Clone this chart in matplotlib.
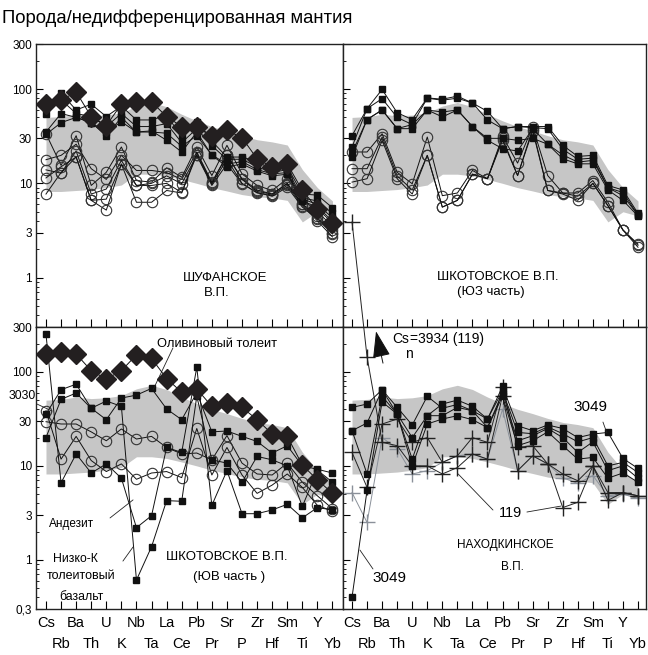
import numpy as np
import matplotlib.pyplot as plt
from matplotlib.ticker import NullFormatter, FixedLocator

plt.rcParams['font.family'] = ['Liberation Sans', 'DejaVu Sans']

# Elements in the order of the spider diagram
elements = ['Cs', 'Rb', 'Ba', 'Th', 'U', 'K', 'Nb', 'Ta', 'La', 'Ce',
            'Pb', 'Pr', 'Sr', 'P', 'Zr', 'Hf', 'Sm', 'Ti', 'Y', 'Yb']

# Grey field (same in every panel)
band_hi = [50, 51, 54, 52, 53, 56, 66, 72, 65, 54, 46, 40, 36, 32, 29, 27.5, 25.5, 14, 9, 6.5]
band_lo = [8.2, 8.2, 8.4, 8.6, 9, 9.6, 12.5, 12.5, 12, 11, 10, 9, 8.3, 7.6, 7.2, 7, 6.6, 3.9, 5, 4.5]

# Шуфанское В.П.
shuf_diamond = [69, 76, 93, 51, 41, 69, 73, 73, 51, 40, 40, 32, 36.5, 30.5, 18.2, 14.9, 16.1, 8.4, 5.4, 3.8]
shuf_sq1 = [55, 90, 60, 69, 51, 66, 47, 47, 53, 31, 45, 28, 19, 19, 17, 14, 15, 7.7, 7.5, 5.5]
shuf_sq2 = [66, 77, 55, 51, 40, 55, 40, 40, 43, 27, 38, 25, 18, 18, 15, 13, 14, 7, 6.5, 4.8]
shuf_sq3 = [35, 55, 50, 44, 35, 45, 35, 35, 34, 24.7, 32, 20, 16, 17, 14, 12.6, 13, 6.8, 6, 4.3]
shuf_sq4 = [33, 44, 50, 44, 32, 50, 35, 36, 28.6, 21.5, 35, 19.8, 15, 16, 13.5, 12, 12.5, 6.5, 5.6, 4]
shuf_c1 = [33.6, 15.5, 32, 9.5, 13.1, 24.3, 10.7, 10.3, 14.6, 11.6, 24.3, 12.1, 25.3, 12.6, 9.5, 8.4, 11.2, 6.8, 5, 3.5]
shuf_c2 = [17.8, 19.8, 26, 14.3, 11, 19.8, 13.7, 13.7, 13, 11, 21.5, 10.3, 19.8, 11.2, 8.5, 7.7, 9.9, 6.05, 4.5, 3.2]
shuf_c3 = [13.9, 12.8, 22, 7.7, 8.7, 17.5, 9.5, 10, 12, 9.9, 19.8, 9.5, 16, 9.9, 8, 7.3, 9.1, 5.6, 4.2, 2.9]
shuf_c4 = [11.4, 15, 19, 6.6, 5.2, 16, 6.3, 6.3, 8.4, 7.9, 20, 9.8, 18, 10, 7.9, 7.5, 9.5, 5.8, 4, 2.7]
shuf_c5 = [7.7, 13, 19, 6.6, 6.8, 16, 9.5, 9.5, 10, 8, 21, 10, 20, 11, 8.2, 7.7, 10, 6, 4.3, 3]

# Шкотовское В.П. (ЮЗ часть)
shsw_sq1 = [32, 62, 99, 56, 47.5, 80.5, 78, 84, 71, 58, 38, 40, 40, 40, 25.3, 19.3, 19.8, 9.5, 8.5, 4.8]
shsw_sq2 = [24.3, 62, 79, 50, 42, 80, 76, 80, 71, 47, 38, 40, 39, 38, 23, 18, 18.5, 9, 8, 4.6]
shsw_sq3 = [21, 47.5, 60, 38, 42, 60, 57, 60, 40, 30, 30, 28.6, 30, 26, 20, 16.8, 17.5, 9, 7.4, 4.6]
shsw_sq4 = [19, 47.5, 60, 38, 38, 60, 50.6, 60, 40, 28.6, 23.3, 22, 38, 26, 18.2, 16.1, 16.1, 8.5, 6.6, 4.5]
shsw_c1 = [21.5, 21.5, 33.6, 13.1, 9.9, 31, 7.4, 7.9, 13.7, 11.2, 31.5, 16.4, 40, 12.1, 7.9, 7.9, 10.7, 6.3, 3.2, 2.27]
shsw_c2 = [14.3, 14.3, 31, 12, 8.5, 19.8, 5.6, 6.6, 12.5, 11.2, 30, 12.1, 38, 8.4, 7.9, 7.3, 10, 5.8, 3.2, 2.2]
shsw_c3 = [10.3, 11.2, 28.6, 11.2, 7.7, 19.8, 5.6, 6.6, 12.5, 11.2, 28.6, 12.1, 36, 8.4, 7.7, 6.6, 10, 5.8, 3.2, 2.1]

# Шкотовское В.П. (ЮВ часть)
shse_diamond = [155, 164, 155, 103, 84, 103, 152, 139, 85, 60.6, 65.7, 43, 46.6, 41.9, 31, 21.8, 20.6, 10.2, 7.1, 5.1]
shse_sq1 = [35.6, 64.6, 74, 41, 31, 52.7, 56.6, 66.7, 40.3, 31, 60, 23, 23.5, 20.6, 18.2, 13.7, 16.4, 10, 9.2, 8.4]
shse_sq2 = [20, 51, 59.6, 41, 49, 43, 0.61, 1.38, 4.27, 4.2, 55, 11.6, 10.7, 6.7, 12.6, 11.6, 10, 3.7, 9, 6.7]
shse_sq3 = [252, 6.6, 13.4, 8.4, 10.5, 7.4, 2.2, 2.95, 15.7, 13.9, 112, 3.8, 8.9, 3.1, 3.1, 3.4, 3.9, 2.8, 3.6, 3.4]
shse_c1 = [29.5, 27.9, 27.9, 23, 18.5, 24.7, 19.3, 20.6, 15.7, 13.4, 13.7, 11.6, 21, 10.7, 8.2, 8, 10.7, 6.7, 4.8, 3.5]
shse_c2 = [38.6, 11.8, 20.6, 11.4, 8.7, 10.5, 7.2, 8.4, 8.7, 7.5, 25, 8, 15.7, 8, 5.1, 6.25, 8.2, 5.9, 3.8, 3.3]

# Находкинское В.П.
nakh_3049 = [0.4, 5.5, 48, 35.6, 11.8, 34.2, 45.5, 50.1, 43, 31.5, 70, 26.7, 23.7, 27.2, 25, 20, 21.8, 22.7, 12, 9.4]
nakh_sq1 = [41.9, 45.5, 64.6, 41.9, 27.2, 55, 41, 45, 38.6, 31.5, 63, 22.7, 22, 26, 22, 18, 20, 10, 10.9, 8.5]
nakh_sq2 = [23.7, 28.6, 64.6, 35.6, 20, 34.2, 34.2, 41.9, 38.6, 25.6, 60, 18.5, 20.9, 25, 20, 13.9, 18, 8.9, 10, 7.4]
nakh_sq3 = [23.7, 8.2, 55, 35.6, 10, 27.9, 31.5, 34.2, 31, 25.6, 55, 16.4, 18.5, 23, 16.4, 11.8, 12.3, 7.4, 8.4, 6.7]
nakh_119 = [3934, 144, 17.8, 16.4, 10, 10, 8.2, 9.6, 13.4, 11.8, 55.7, 8.9, 12.8, 10.5, 3.6, 4.1, 10, 4.3, 5.2, 4.8]
nakh_x2 = [13.9, 5.9, 27.9, 31.5, 17.8, 20, 10.9, 12.8, 20, 17.8, 68.4, 15.7, 16.4, 10.5, 8.2, 6.95, 10, 5.2, 5.2, 4.8]
nakh_x3 = [5.2, 2.5, 20, 15.2, 8.2, 8.9, 10.9, 12.8, 13.4, 11.8, 40, 8.9, 12.8, 10.5, 7.5, 6.5, 7.9, 4.8, 5, 4.5]

x = np.arange(len(elements))

fig = plt.figure(figsize=(6.48, 6.55), dpi=100)
ax_tl = fig.add_axes([0.0556, 0.5008, 0.4738, 0.432])
ax_tr = fig.add_axes([0.5293, 0.5008, 0.4676, 0.432])
ax_bl = fig.add_axes([0.0556, 0.0702, 0.4738, 0.4305])
ax_br = fig.add_axes([0.5293, 0.0702, 0.4676, 0.4305])

line_kw = dict(color='#111111', lw=0.7)


def squares(ax, vals):
    ax.plot(x, vals, marker='s', ms=4.4, mfc='#111111', mec='#111111', zorder=3, **line_kw)


def circles(ax, vals):
    ax.plot(x, vals, marker='o', ms=7.5, mfc='none', mec='#333333', mew=0.8, zorder=2, **line_kw)


def diamonds(ax, vals):
    ax.plot(x, vals, marker='D', ms=9.8, mfc='#231f20', mec='#231f20', zorder=4, **line_kw)


def crosses(ax, vals, color, clip=True):
    ax.plot(x, vals, marker='+', ms=11, mew=1.0, color=color, lw=0.7, zorder=2.5, clip_on=clip)


def style_axes(ax, left, bottom, top_panel):
    ax.fill_between(x, band_lo, band_hi, color='#c6c6c6', lw=0, zorder=0)
    ax.set_yscale('log')
    ax.set_ylim(0.3, 300)
    ax.set_xlim(-0.66 if left else -0.6, 19.7 if left else 19.53)
    if top_panel:
        ax.set_yticks([1, 3, 10, 30, 100, 300])
        ax.set_yticklabels(['1', '3', '10', '30', '100', '300'])
    else:
        ax.set_yticks([0.3, 1, 3, 10, 30, 100, 300])
        ax.set_yticklabels(['0,3', '1', '3', '10', '30', '100', '300'])
    ax.yaxis.set_minor_formatter(NullFormatter())
    ax.tick_params(axis='y', which='major', direction='in', length=5, width=0.8,
                   labelsize=8.5, pad=3, labelleft=left)
    ax.tick_params(axis='y', which='minor', direction='in', length=2.5, width=0.6)
    # even elements on the first row, odd ones on the second row
    ax.xaxis.set_major_locator(FixedLocator(x[0::2]))
    ax.xaxis.set_minor_locator(FixedLocator(x[1::2]))
    ax.tick_params(axis='x', which='both', direction='in', length=6, width=0.8,
                   labelbottom=bottom, labelsize=10.5)
    ax.tick_params(axis='x', which='major', pad=4.8)
    ax.tick_params(axis='x', which='minor', pad=20.5)
    if bottom:
        ax.set_xticklabels(elements[0::2])
        ax.set_xticklabels(elements[1::2], minor=True)
    for s in ax.spines.values():
        s.set_linewidth(1.0)
        s.set_color('#222222')


style_axes(ax_tl, True, False, True)
style_axes(ax_tr, False, False, True)
style_axes(ax_bl, True, True, False)
style_axes(ax_br, False, True, False)

# Шуфанское
for v in [shuf_c1, shuf_c2, shuf_c3, shuf_c4, shuf_c5]:
    circles(ax_tl, v)
for v in [shuf_sq1, shuf_sq2, shuf_sq3, shuf_sq4]:
    squares(ax_tl, v)
diamonds(ax_tl, shuf_diamond)
ax_tl.text(0.616, 0.173, 'ШУФАНСКОЕ', transform=ax_tl.transAxes, ha='center', va='center', fontsize=9.5)
ax_tl.text(0.59, 0.12, 'В.П.', transform=ax_tl.transAxes, ha='center', va='center', fontsize=9.5)

# Шкотовское ЮЗ
for v in [shsw_c1, shsw_c2, shsw_c3]:
    circles(ax_tr, v)
for v in [shsw_sq1, shsw_sq2, shsw_sq3, shsw_sq4]:
    squares(ax_tr, v)
ax_tr.text(0.51, 0.177, 'ШКОТОВСКОЕ В.П.', transform=ax_tr.transAxes, ha='center', va='center', fontsize=9.5)
ax_tr.text(0.488, 0.124, '(ЮЗ часть)', transform=ax_tr.transAxes, ha='center', va='center', fontsize=9.5)

# Шкотовское ЮВ
for v in [shse_c1, shse_c2]:
    circles(ax_bl, v)
for v in [shse_sq1, shse_sq2, shse_sq3]:
    squares(ax_bl, v)
diamonds(ax_bl, shse_diamond)
ax_bl.text(0.62, 0.184, 'ШКОТОВСКОЕ В.П.', transform=ax_bl.transAxes, ha='center', va='center', fontsize=9.5)
ax_bl.text(0.629, 0.113, '(ЮВ часть )', transform=ax_bl.transAxes, ha='center', va='center', fontsize=9.5)
ax_bl.text(0.591, 0.94, 'Оливиновый толеит', transform=ax_bl.transAxes, ha='center', va='center', fontsize=9.3)
ax_bl.text(-0.044, 0.755, '3030', transform=ax_bl.transAxes, ha='center', va='center', fontsize=8.8, clip_on=False)
ax_bl.text(0.117, 0.301, 'Андезит', transform=ax_bl.transAxes, ha='center', va='center', fontsize=8.5)
ax_bl.text(0.127, 0.177, 'Низко-К', transform=ax_bl.transAxes, ha='center', va='center', fontsize=8.8)
ax_bl.text(0.147, 0.117, 'толеитовый', transform=ax_bl.transAxes, ha='center', va='center', fontsize=9)
ax_bl.text(0.147, 0.043, 'базальт', transform=ax_bl.transAxes, ha='center', va='center', fontsize=8.8)
leaders_bl = [((0.446, 0.926), (0.381, 0.777)),
              ((0.003, 0.727), (0.052, 0.702)),
              ((0.241, 0.323), (0.316, 0.387)),
              ((0.283, 0.17), (0.316, 0.22))]
for a, b in leaders_bl:
    ax_bl.annotate('', xy=b, xytext=a, xycoords='axes fraction', textcoords='axes fraction',
                   arrowprops=dict(arrowstyle='-', lw=0.6, color='#222222', shrinkA=0, shrinkB=0),
                   annotation_clip=False)

# Находкинское
crosses(ax_br, nakh_x3, '#8a9099')
crosses(ax_br, nakh_x2, '#222222')
crosses(ax_br, nakh_119, '#222222', clip=False)
for v in [nakh_sq1, nakh_sq2, nakh_sq3, nakh_3049]:
    squares(ax_br, v)
ax_br.text(0.536, 0.227, 'НАХОДКИНСКОЕ', transform=ax_br.transAxes, ha='center', va='center', fontsize=8.5)
ax_br.text(0.558, 0.149, 'В.П.', transform=ax_br.transAxes, ha='center', va='center', fontsize=8.5)
ax_br.text(0.817, 0.716, '3049', transform=ax_br.transAxes, ha='center', va='center', fontsize=11)
ax_br.text(0.153, 0.11, '3049', transform=ax_br.transAxes, ha='center', va='center', fontsize=11)
ax_br.text(0.554, 0.34, '119', transform=ax_br.transAxes, ha='center', va='center', fontsize=10.5)
ax_br.text(0.162, 0.957, 'Cs', transform=ax_br.transAxes, ha='left', va='center', fontsize=10)
ax_br.text(0.205, 0.905, 'n', transform=ax_br.transAxes, ha='left', va='center', fontsize=10)
ax_br.text(0.221, 0.957, '=3934 (119)', transform=ax_br.transAxes, ha='left', va='center', fontsize=10)
ax_br.annotate('', xy=(0.109, 0.985), xytext=(0.132, 0.872), xycoords='axes fraction',
               textcoords='axes fraction',
               arrowprops=dict(arrowstyle='-|>,head_length=1.2,head_width=0.4', lw=0.7,
                               color='#111111', shrinkA=0, shrinkB=0, mutation_scale=14))
leaders_br = [((0.858, 0.663), (0.871, 0.624)),
              ((0.495, 0.351), (0.380, 0.479)),
              ((0.607, 0.344), (0.719, 0.365)),
              ((0.099, 0.142), (0.056, 0.209))]
for a, b in leaders_br:
    ax_br.annotate('', xy=b, xytext=a, xycoords='axes fraction', textcoords='axes fraction',
                   arrowprops=dict(arrowstyle='-', lw=0.6, color='#222222', shrinkA=0, shrinkB=0))

fig.text(0.003, 0.9725, 'Порода/недифференцированная мантия', ha='left', va='center', fontsize=13.3)

fig.savefig('out.png', dpi=100)
